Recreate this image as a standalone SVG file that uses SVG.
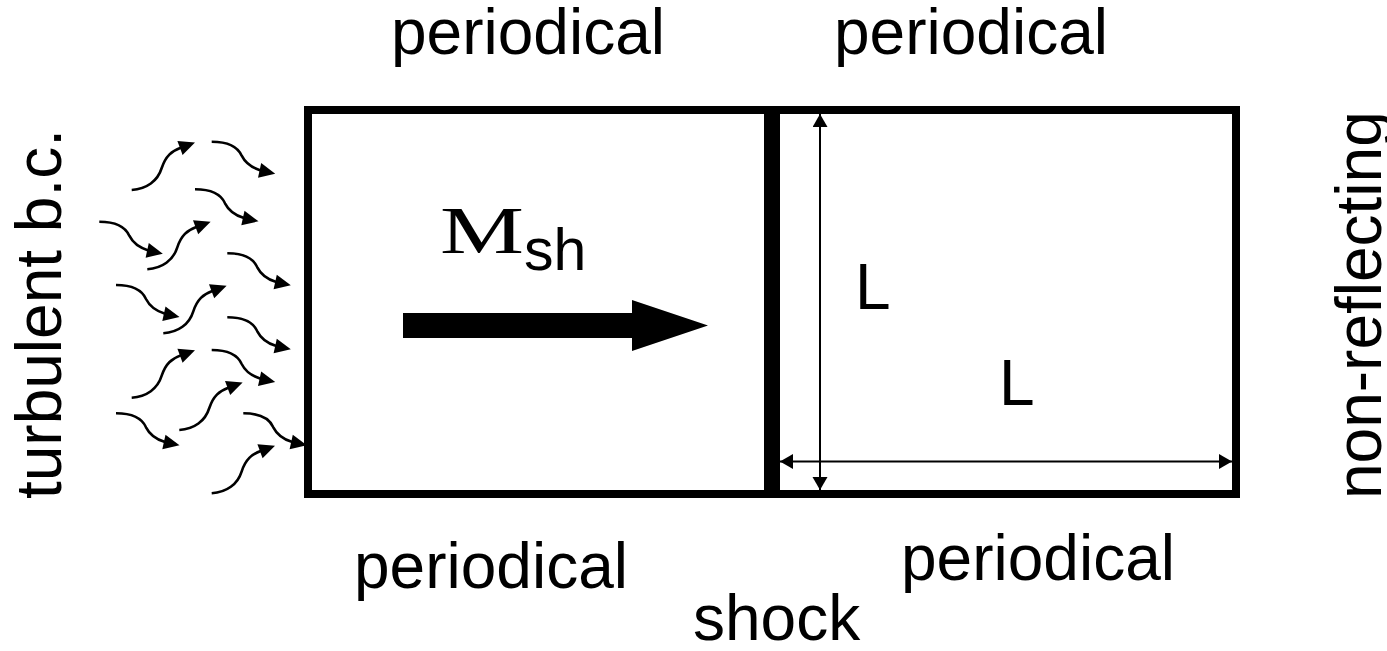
<svg xmlns="http://www.w3.org/2000/svg" width="1387" height="651" viewBox="0 0 1387 651">
<style>
.t{font-family:"Liberation Sans",Arial,sans-serif;font-size:64px;fill:#000}
.sq{fill:none;stroke:#000;stroke-width:2.6}
.dim{fill:none;stroke:#000;stroke-width:2}
</style>
<defs>
<marker id="dh" markerUnits="userSpaceOnUse" markerWidth="16" markerHeight="16" refX="13" refY="7.5" orient="auto-start-reverse"><path d="M0,0 L13,7.5 L0,15 z" fill="#000"/></marker>
<g id="dn">
<path class="sq" d="M0,0 C16,0 26,5 30,14 C34,22 40,26 49,28.7"/>
<polygon points="49.5,21.4 63.5,32 46.3,36" fill="#000"/>
</g>
<g id="up">
<path class="sq" d="M0,0 C15,-1 26,-9 30,-22 C34,-34 40,-39 49,-42.3"/>
<polygon points="45.7,-49 63.3,-47.5 50.9,-35" fill="#000"/>
</g>
</defs>
<rect width="1387" height="651" fill="#fff"/>
<g id="domain">
<rect x="308" y="110" width="928" height="384" fill="none" stroke="#000" stroke-width="8"/>
</g>
<g id="shock-line">
<rect x="764" y="106" width="16" height="392" fill="#000"/>
</g>
<g id="mach-arrow">
<polygon points="403,313 632,313 632,300 708,325.5 632,351 632,338 403,338" fill="#000"/>
<text x="440" y="253" font-family="Liberation Serif,Times New Roman,serif" font-size="68" textLength="84" lengthAdjust="spacingAndGlyphs">M</text>
<text class="t" x="524" y="270" style="font-size:59px">sh</text>
</g>
<g id="connectors">
<use href="#dn" x="211.7" y="141.7"/>
<use href="#dn" x="195" y="189.3"/>
<use href="#dn" x="99.3" y="221.7"/>
<use href="#dn" x="227.3" y="253.3"/>
<use href="#dn" x="116" y="285"/>
<use href="#dn" x="227.3" y="317.3"/>
<use href="#dn" x="211.7" y="350"/>
<use href="#dn" x="116" y="413.3"/>
<use href="#dn" x="243.3" y="413.3"/>
<use href="#up" x="131.7" y="190"/>
<use href="#up" x="147.3" y="269.3"/>
<use href="#up" x="163.3" y="333.3"/>
<use href="#up" x="131.7" y="397.7"/>
<use href="#up" x="179.3" y="430"/>
<use href="#up" x="211.7" y="493.3"/>
<line class="dim" x1="820" y1="114" x2="820" y2="490" marker-start="url(#dh)" marker-end="url(#dh)"/>
<line class="dim" x1="780" y1="461.5" x2="1232" y2="461.5" marker-start="url(#dh)" marker-end="url(#dh)"/>
</g>
<g id="labels">
<text class="t" x="391" y="54">periodical</text>
<text class="t" x="834" y="54">periodical</text>
<text class="t" x="354" y="588">periodical</text>
<text class="t" x="901" y="580">periodical</text>
<text class="t" x="693" y="640">shock</text>
<text class="t" x="855" y="309">L</text>
<text class="t" x="999" y="405">L</text>
<text class="t" transform="translate(61,499) rotate(-90)">turbulent b.c.</text>
<text class="t" transform="translate(1381,499) rotate(-90)">non-reflecting</text>
</g>
</svg>
